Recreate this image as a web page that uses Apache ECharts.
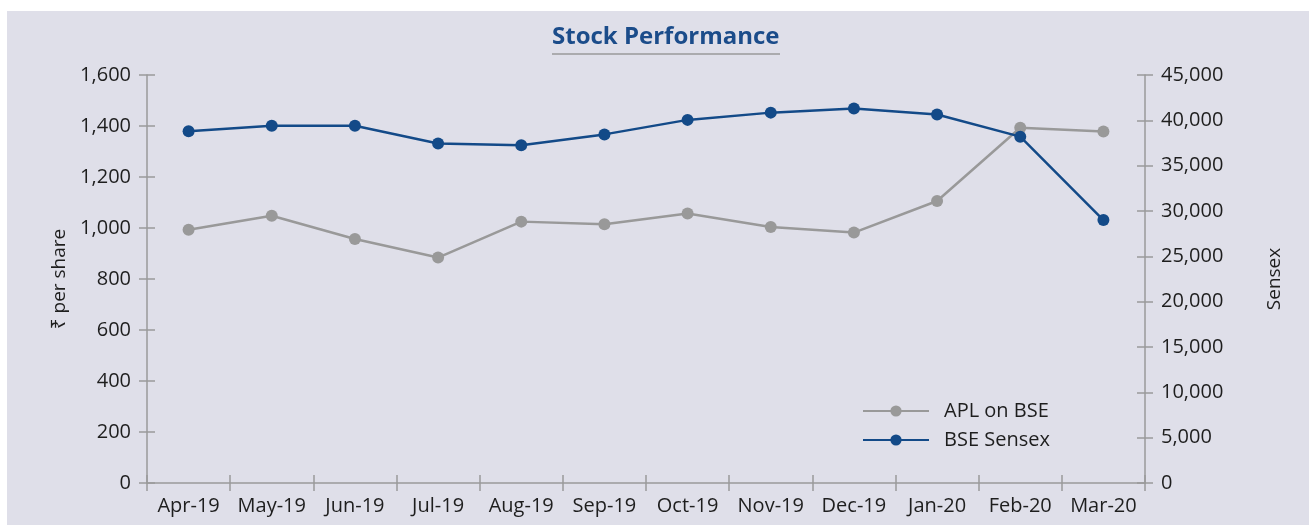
<!DOCTYPE html>
<html>
<head>
<meta charset="utf-8">
<script src="https://cdn.jsdelivr.net/npm/echarts@6/dist/echarts.min.js"></script>
<style>
    html, body { margin: 0; padding: 0; background: #fff; }
    #bg { position: absolute; left: 7px; top: 11px; width: 1302px; height: 514px; background: #dfdfe9; }
    #main { position: absolute; left: 0; top: 0; width: 1309px; height: 525px; }
</style>
</head>
<body>
<div id="bg"></div>
<div id="main"></div>
<script>
// data
const months = ['Apr-19', 'May-19', 'Jun-19', 'Jul-19', 'Aug-19', 'Sep-19',
    'Oct-19', 'Nov-19', 'Dec-19', 'Jan-20', 'Feb-20', 'Mar-20'];
const aplOnBse = [993, 1048, 957, 884, 1025, 1015, 1057, 1004, 982, 1106, 1393, 1378];
const bseSensex = [38800, 39400, 39400, 37450, 37250, 38450, 40050, 40850, 41300, 40650, 38200, 29000];

const fontFam = '"Open Sans", "Noto Sans", sans-serif';
const axisGrey = '#9a9a9a';
const txt = '#1e1e1e';

const chart = echarts.init(document.getElementById('main'));

// shared look for the axes; "inner" copies only add the inside half of each tick
function valueAxis(pos, max, interval, inner, name) {
    return {
        type: 'value',
        position: pos,
        min: 0,
        max: max,
        interval: interval,
        name: inner ? '' : name,
        nameLocation: 'middle',
        nameGap: pos === 'left' ? 76 : 120,
        nameRotate: 90,
        nameTextStyle: { fontFamily: fontFam, fontSize: 19, color: txt },
        splitLine: { show: false },
        axisLine: { show: !inner, lineStyle: { color: axisGrey, width: 1.5 } },
        axisTick: { show: true, inside: inner, length: 8, lineStyle: { color: axisGrey, width: 1.5 } },
        axisLabel: {
            show: !inner,
            margin: 16,
            fontFamily: fontFam,
            fontSize: 20,
            color: txt,
            formatter: v => v.toLocaleString('en-US')
        }
    };
}

function catAxis(inner) {
    return {
        type: 'category',
        data: months,
        position: 'bottom',
        boundaryGap: true,
        axisLine: { show: !inner, lineStyle: { color: axisGrey, width: 1.5 } },
        axisTick: { show: true, inside: inner, length: 8, lineStyle: { color: axisGrey, width: 1.5 } },
        axisLabel: {
            show: !inner,
            margin: 13,
            interval: 0,
            fontFamily: fontFam,
            fontSize: 20,
            color: txt
        }
    };
}

const option = {
    animation: false,
    backgroundColor: 'transparent',
    title: {
        text: 'Stock Performance',
        left: 552,
        top: 25,
        padding: 0,
        textStyle: { fontFamily: fontFam, fontSize: 24, fontWeight: 'bold', color: '#1b4c8a' }
    },
    graphic: [
        {
            type: 'line',
            shape: { x1: 552, y1: 54, x2: 780, y2: 54 },
            style: { stroke: '#9a9a9a', lineWidth: 1.5 }
        }
    ],
    grid: { left: 147, right: 164, top: 75, bottom: 42 },
    legend: {
        orient: 'vertical',
        left: 862,
        top: 401,
        padding: 0,
        itemWidth: 66,
        itemHeight: 14,
        itemGap: 9,
        textStyle: { fontFamily: fontFam, fontSize: 20, color: txt, padding: [0, 0, 0, 10] },
        data: ['APL on BSE', 'BSE Sensex']
    },
    xAxis: [catAxis(false), catAxis(true)],
    yAxis: [
        valueAxis('left', 1600, 200, false, '₹ per share'),
        valueAxis('right', 45000, 5000, false, 'Sensex'),
        valueAxis('left', 1600, 200, true, ''),
        valueAxis('right', 45000, 5000, true, '')
    ],
    series: [
        {
            name: 'APL on BSE',
            type: 'line',
            yAxisIndex: 0,
            data: aplOnBse,
            symbol: 'circle',
            symbolSize: 12,
            color: '#999999',
            lineStyle: { width: 2.5, color: '#999999' },
            itemStyle: { color: '#999999' }
        },
        {
            name: 'BSE Sensex',
            type: 'line',
            yAxisIndex: 1,
            data: bseSensex,
            symbol: 'circle',
            symbolSize: 12,
            color: '#134a88',
            lineStyle: { width: 2.5, color: '#134a88' },
            itemStyle: { color: '#134a88' }
        }
    ]
};

chart.setOption(option);
</script>
</body>
</html>
